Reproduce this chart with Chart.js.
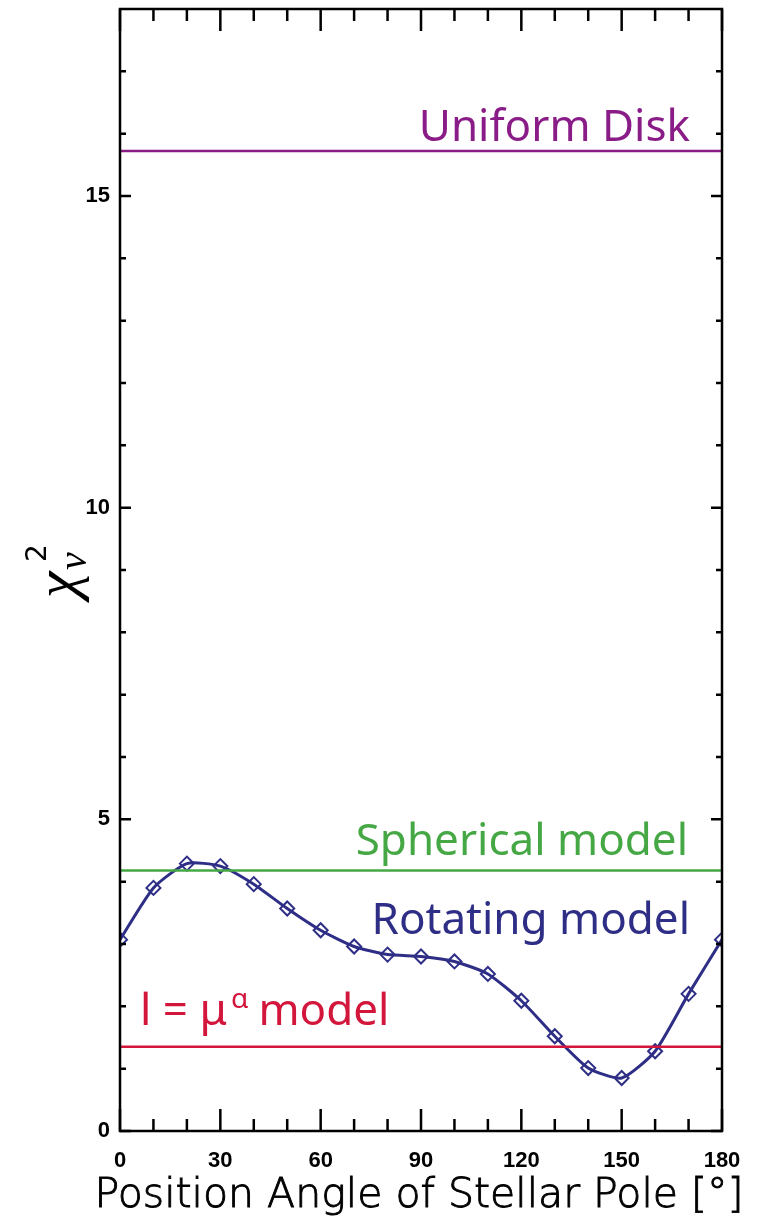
<!DOCTYPE html>
<html>
<head>
<meta charset="utf-8">
<script src="https://cdn.jsdelivr.net/npm/chart.js@4"></script>
<style>
  html, body { margin: 0; padding: 0; background: #fff; }
  #chart { display: block; }
</style>
</head>
<body>
<canvas id="chart" width="759" height="1220"></canvas>
<script>
// Data
const angles = [0, 10, 20, 30, 40, 50, 60, 70, 80, 90, 100, 110, 120, 130, 140, 150, 160, 170, 180];
const rotatingChi2 = [3.07, 3.90, 4.29, 4.25, 3.96, 3.57, 3.22, 2.96, 2.83, 2.80, 2.72, 2.52, 2.09, 1.52, 1.01, 0.85, 1.28, 2.20, 3.07];
const uniformDiskChi2 = 15.72;
const sphericalChi2 = 4.18;
const powerLawChi2 = 1.35;

const xRange = [0, 180];
const yRange = [0, 18];
const xMajorTicks = [0, 30, 60, 90, 120, 150, 180];
const xMinorTicks = [10, 20, 40, 50, 70, 80, 100, 110, 130, 140, 160, 170];
const yMajorTicks = [0, 5, 10, 15];
const yMinorTicks = [1, 2, 3, 4, 6, 7, 8, 9, 11, 12, 13, 14, 16, 17];

const COL_UD = '#8a1c88';
const COL_SPH = '#45a845';
const COL_ROT = '#2e2e86';
const COL_LD = '#d3163c';

const flatLine = (v) => xRange.map(x => ({ x: x, y: v }));

// Frame, inward ticks, in-plot labels, axis titles
const decorPlugin = {
    id: 'decor',
    afterDraw(chart) {
        const ctx = chart.ctx;
        const a = chart.chartArea;
        const xs = chart.scales.x;
        const ys = chart.scales.y;
        ctx.save();
        ctx.strokeStyle = '#000';
        ctx.lineWidth = 2.5;
        ctx.lineCap = 'butt';

        const tickX = (vals, len) => {
            vals.forEach(v => {
                const px = xs.getPixelForValue(v);
                ctx.beginPath();
                ctx.moveTo(px, a.bottom); ctx.lineTo(px, a.bottom - len);
                ctx.moveTo(px, a.top); ctx.lineTo(px, a.top + len);
                ctx.stroke();
            });
        };
        const tickY = (vals, len) => {
            vals.forEach(v => {
                const py = ys.getPixelForValue(v);
                ctx.beginPath();
                ctx.moveTo(a.left, py); ctx.lineTo(a.left + len, py);
                ctx.moveTo(a.right, py); ctx.lineTo(a.right - len, py);
                ctx.stroke();
            });
        };
        tickX(xMajorTicks, 22);
        tickX(xMinorTicks, 12);
        tickY(yMajorTicks, 11);
        tickY(yMinorTicks, 6);
        ctx.strokeRect(a.left, a.top, a.right - a.left, a.bottom - a.top);

        // labels for the model lines
        ctx.textBaseline = 'alphabetic';
        ctx.font = '44px "Noto Sans"';
        ctx.textAlign = 'right';
        ctx.fillStyle = COL_UD;
        ctx.fillText('Uniform Disk', 690, ys.getPixelForValue(uniformDiskChi2) - 10);
        ctx.fillStyle = COL_SPH;
        ctx.fillText('Spherical model', 688, ys.getPixelForValue(sphericalChi2) - 15);
        ctx.fillStyle = COL_ROT;
        ctx.fillText('Rotating model', 690, 934);

        ctx.textAlign = 'left';
        ctx.fillStyle = COL_LD;
        const by = 1025;
        let x = 140;
        ctx.fillText('l = μ', x, by);
        x += ctx.measureText('l = μ').width + 4;
        ctx.font = '28px "Noto Sans"';
        ctx.fillText('α', x, by - 17);
        x += ctx.measureText('α').width + 10;
        ctx.font = '44px "Noto Sans"';
        ctx.fillText('model', x, by);

        // x axis title
        ctx.fillStyle = '#000';
        ctx.strokeStyle = '#000';
        ctx.lineWidth = 0.9;
        ctx.textAlign = 'center';
        ctx.font = '200 41px "DejaVu Sans"';
        ctx.fillText('Position Angle of Stellar Pole [°]', 419, 1207);
        ctx.strokeText('Position Angle of Stellar Pole [°]', 419, 1207);

        // y axis title: chi^2_nu, rotated
        ctx.translate(76, 600);
        ctx.rotate(-Math.PI / 2);
        ctx.textAlign = 'left';
        ctx.font = 'italic 60px "Liberation Serif"';
        ctx.fillText('χ', 2, 0);
        ctx.font = '28px "DejaVu Sans"';
        ctx.fillText('2', 38, -30);
        ctx.font = 'italic 40px "Liberation Serif"';
        ctx.fillText('ν', 30, 10);
        ctx.restore();
    }
};

const chart = new Chart(document.getElementById('chart'), {
    type: 'line',
    data: {
        datasets: [
            {
                label: 'Uniform Disk',
                data: flatLine(uniformDiskChi2),
                borderColor: COL_UD,
                borderWidth: 2.5,
                pointRadius: 0
            },
            {
                label: 'Spherical model',
                data: flatLine(sphericalChi2),
                borderColor: COL_SPH,
                borderWidth: 2.5,
                pointRadius: 0
            },
            {
                label: 'I = mu^alpha model',
                data: flatLine(powerLawChi2),
                borderColor: COL_LD,
                borderWidth: 2.5,
                pointRadius: 0
            },
            {
                label: 'Rotating model',
                data: angles.map((a, i) => ({ x: a, y: rotatingChi2[i] })),
                borderColor: COL_ROT,
                borderWidth: 3,
                tension: 0.2,
                pointStyle: 'rectRot',
                pointRadius: 7,
                pointBorderWidth: 2,
                pointBorderColor: COL_ROT,
                pointBackgroundColor: 'rgba(255,255,255,0)'
            }
        ]
    },
    options: {
        responsive: false,
        devicePixelRatio: 1,
        animation: false,
        layout: { padding: { top: 8, right: 37, left: 0, bottom: 0 } },
        plugins: {
            legend: { display: false },
            tooltip: { enabled: false }
        },
        scales: {
            x: {
                type: 'linear',
                min: xRange[0],
                max: xRange[1],
                grid: { display: false, drawTicks: false },
                border: { display: false },
                afterBuildTicks: (s) => { s.ticks = xMajorTicks.map(v => ({ value: v })); },
                afterFit: (s) => { s.height = 89; s.paddingLeft = 0; s.paddingRight = 0; },
                ticks: {
                    color: '#000',
                    padding: 17,
                    maxRotation: 0,
                    font: { family: 'Liberation Sans', size: 22, weight: 'bold' }
                }
            },
            y: {
                type: 'linear',
                min: yRange[0],
                max: yRange[1],
                grid: { display: false, drawTicks: false },
                border: { display: false },
                afterBuildTicks: (s) => { s.ticks = yMajorTicks.map(v => ({ value: v })); },
                afterFit: (s) => { s.width = 120; s.paddingTop = 0; s.paddingBottom = 0; },
                ticks: {
                    color: '#000',
                    padding: 10,
                    font: { family: 'Liberation Sans', size: 22, weight: 'bold' }
                }
            }
        }
    },
    plugins: [decorPlugin]
});
</script>
</body>
</html>
